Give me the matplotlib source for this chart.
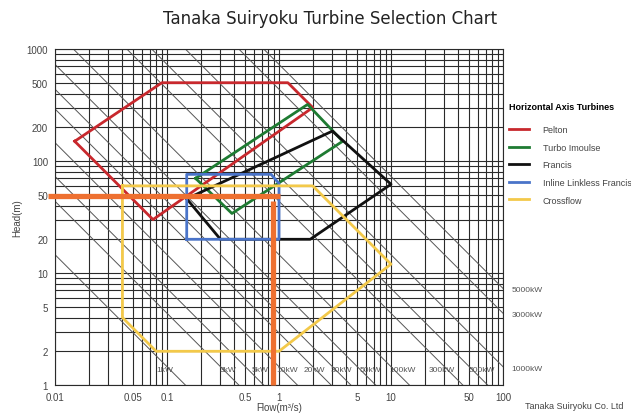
import numpy as np
import matplotlib
matplotlib.use('Agg')
import matplotlib.pyplot as plt
from matplotlib.lines import Line2D

plt.rcParams['font.family'] = ['Liberation Sans', 'DejaVu Sans']

# turbine ranges (flow m3/s, head m)
pelton_q = [0.015, 0.09, 1.2, 2.0, 0.075]
pelton_h = [150, 500, 500, 300, 30]
turgo_q = [0.18, 1.8, 3.7, 0.38]
turgo_h = [70, 320, 150, 34]
francis_q = [0.15, 3.0, 10.0, 1.9, 0.3]
francis_h = [46, 185, 62, 20, 20]
inline_q = [0.15, 0.15, 0.85, 1.0, 1.0]
inline_h = [20, 76, 76, 63, 20]
cross_q = [0.04, 0.04, 0.08, 1.0, 10.0, 2.0]
cross_h = [60, 4, 2, 2, 12, 60]

# output power lines (kW), P = 9.8 * eta * Q * H
power_kw = [1, 3, 5, 10, 20, 30, 50, 100, 300, 500, 1000, 3000, 5000]
eta = 0.7
bottom_labels = ['1kW', '3kW', '5kW', '10kW', '20kW', '30kW', '50kW', '100kW', '300kW', '500kW']
bottom_label_q = [0.096, 0.35, 0.68, 1.18, 2.05, 3.58, 6.5, 12.8, 28.5, 64.6]
right_labels = ['1000kW', '3000kW', '5000kW']
right_label_p = [1000, 3000, 5000]

# the marked operating point
mark_q = 0.88
mark_h = 49

xticks = [0.01, 0.05, 0.1, 0.5, 1, 5, 10, 50, 100]
xticklabels = ['0.01', '0.05', '0.1', '0.5', '1', '5', '10', '50', '100']
yticks = [1, 2, 5, 10, 20, 50, 100, 200, 500, 1000]

fig = plt.figure(figsize=(6.31, 4.14), dpi=100)
ax = fig.add_axes([55/631, 1-386/414, 448/631, 336/414])
ax.set_xscale('log')
ax.set_yscale('log')
ax.set_xlim(0.01, 100)
ax.set_ylim(1, 1000)

ax.grid(True, which='both', color='#2a2a2a', linewidth=0.8)
ax.set_axisbelow(True)
for s in ax.spines.values():
    s.set_color('#2a2a2a')
    s.set_linewidth(0.8)

# diagonal power lines
qq = np.logspace(-2, 2, 50)
for p in power_kw:
    ax.plot(qq, p/(9.8*eta)/qq, color='#555555', linewidth=0.7, zorder=1)

for lab, q in zip(bottom_labels, bottom_label_q):
    ax.text(q, 1.38, lab, fontsize=6, color='#555555', ha='center', va='center')
for lab, p in zip(right_labels, right_label_p):
    ax.annotate(lab, xy=(100, p/(9.8*eta)/100), xytext=(6, -1), textcoords='offset points',
                fontsize=6, color='#555555', va='center', annotation_clip=False)

cols = {'Pelton': '#c8282d', 'Turbo Imoulse': '#1e7b32', 'Francis': '#111111',
        'Inline Linkless Francis': '#4a74c9', 'Crossflow': '#f3c94a'}
polys = [('Pelton', pelton_q, pelton_h), ('Turbo Imoulse', turgo_q, turgo_h),
         ('Francis', francis_q, francis_h), ('Inline Linkless Francis', inline_q, inline_h),
         ('Crossflow', cross_q, cross_h)]
for name, q, h in polys:
    ax.plot(q + q[:1], h + h[:1], color=cols[name], linewidth=2, zorder=3)

# orange marker lines
ax.plot([0.0087, 1.02], [mark_h, mark_h], color='#ee7030', linewidth=3.8, clip_on=False, zorder=5,
        solid_capstyle='butt')
ax.plot([mark_q, mark_q], [1.0, 44], color='#ee7030', linewidth=3.8, clip_on=False, zorder=5,
        solid_capstyle='butt')

ax.set_xticks(xticks)
ax.set_xticklabels(xticklabels)
ax.set_yticks(yticks)
ax.set_yticklabels([str(v) for v in yticks])
ax.minorticks_on()
ax.tick_params(which='both', length=0, labelsize=7, labelcolor='#444444', pad=5)
ax.xaxis.set_minor_formatter(plt.NullFormatter())
ax.yaxis.set_minor_formatter(plt.NullFormatter())

ax.set_xlabel('Flow(m³/s)', fontsize=7, color='#444444', labelpad=0)
ax.set_ylabel('Head(m)', fontsize=7, color='#444444', labelpad=3)

fig.text(0.523, 0.955, 'Tanaka Suiryoku Turbine Selection Chart', fontsize=12, ha='center',
         va='center', color='#222222', family=['DejaVu Sans'])
fig.text(525/631, 1-407/414, 'Tanaka Suiryoku Co. Ltd', fontsize=6.5, color='#444444', va='center')

handles = [Line2D([], [], color=cols[n], linewidth=2) for n, _, _ in polys]
leg = ax.legend(handles, [n for n, _, _ in polys], loc='upper left', bbox_to_anchor=(1.0, 0.86),
                frameon=False, fontsize=6.5, title='Horizontal Axis Turbines',
                title_fontproperties={'weight': 'bold', 'size': 6.5}, alignment='left',
                handlelength=2.2, handletextpad=1.5, labelspacing=0.95, borderaxespad=0.3)
leg._legend_box.sep = 10
for t in leg.get_texts():
    t.set_color('#444444')

fig.savefig('out.png', dpi=100)
